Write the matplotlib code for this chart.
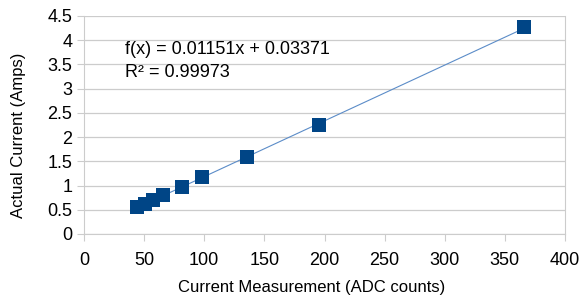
import numpy as np
import matplotlib.pyplot as plt

# ADC reading vs measured current
adc_counts = [44, 50.5, 57, 66, 81.5, 98, 135.5, 195.5, 366]
amps = [0.55, 0.62, 0.70, 0.80, 0.97, 1.17, 1.58, 2.25, 4.27]

slope = 0.01151
intercept = 0.03371
r2_text = "0.99973"

plt.rcParams['font.family'] = ['Liberation Sans', 'DejaVu Sans']

fig = plt.figure(figsize=(5.81, 3.0), dpi=100)
ax = fig.add_axes([84 / 581, 66 / 300, 481 / 581, 218 / 300])

# linear trend line over the data range
xs = np.array([min(adc_counts), max(adc_counts)])
ax.plot(xs, slope * xs + intercept, color='#5b8cc8', lw=0.8, zorder=2)
ax.scatter(adc_counts, amps, marker='s', s=92, color='#004586', zorder=3, linewidths=0)

ax.text(34, 3.80, "f(x) = 0.01151x + 0.03371", fontsize=13, va='center')
ax.text(34, 3.34, "R² = " + r2_text, fontsize=13, va='center')

ax.set_xlim(0, 400)
ax.set_ylim(0, 4.5)
ax.set_xticks(np.arange(0, 401, 50))
ax.set_yticks(np.arange(0, 4.51, 0.5))
ax.set_yticklabels([f"{v:g}" for v in np.arange(0, 4.51, 0.5)])
ax.grid(axis='y', color='#cccccc', lw=0.9)
ax.set_axisbelow(True)
for s in ax.spines.values():
    s.set_color('#cccccc')
ax.spines['top'].set_visible(False)
ax.tick_params(axis='both', colors='#cccccc', labelcolor='black', labelsize=13, length=5, direction='out')
ax.tick_params(axis='x', pad=8)
ax.tick_params(axis='y', pad=3.5)
ax.set_xlabel("Current Measurement (ADC counts)", fontsize=12)
ax.set_ylabel("Actual Current (Amps)", fontsize=12)
ax.xaxis.set_label_coords((312 - 84) / 481, (234 - 280) / 218)
ax.yaxis.set_label_coords((26 - 84) / 481, (234 - 135) / 218)

fig.savefig("out.png", dpi=100)
